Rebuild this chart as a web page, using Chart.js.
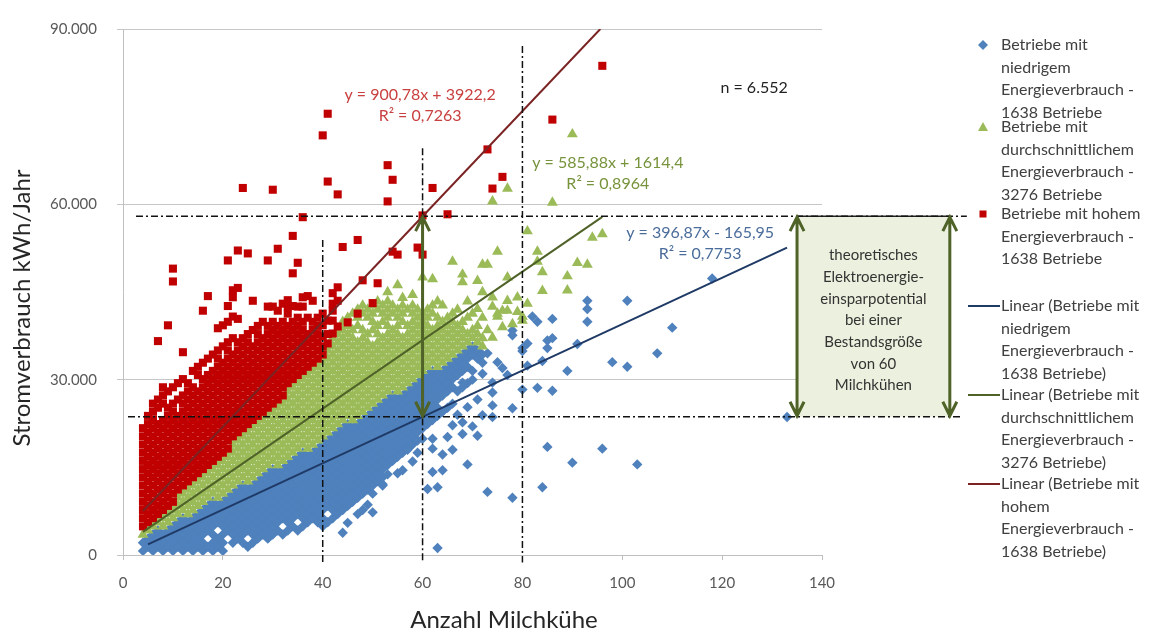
<!DOCTYPE html>
<html lang="de">
<head>
<meta charset="utf-8">
<title>Stromverbrauch Milchviehbetriebe</title>
<script src="https://cdn.jsdelivr.net/npm/chart.js@4.4.1/dist/chart.umd.min.js"></script>
<style>
  html, body { margin: 0; padding: 0; background: #fff; }
</style>
</head>
<body>
<canvas id="chart" width="1149" height="633"></canvas>
<script>
const FONT = 'Lato, "Noto Sans", sans-serif';

// Achsenbeschriftung (y intern in Tsd. kWh)
const xTickLabels = ['0', '20', '40', '60', '80', '100', '120', '140'];
const yTickLabels = ['0', '30.000', '60.000', '90.000'];

// Punktwolken: [Anzahl Kühe, [Stromverbrauch in Tsd. kWh, ...]]
const niedrigSpalten = [
  [4, [0.7, 2.1]], [5, [1.4, 2.8]], [6, [0.7, 2.1, 3.5]], [7, [1.4, 2.8, 4.2]],
  [8, [0.7, 2.1, 3.5]], [9, [1.4, 2.8, 4.2]], [10, [0.7, 2.1, 3.5, 4.9]],
  [11, [1.4, 2.8, 4.2, 5.6]], [12, [0.7, 2.1, 3.5, 4.9, 6.3]], [13, [1.4, 2.8, 4.2, 5.6]],
  [14, [0.7, 2.1, 3.5, 4.9, 6.3]], [15, [1.4, 2.8, 4.2, 5.6, 7.0]],
  [16, [0.7, 2.1, 3.5, 4.9, 6.3, 7.7]], [17, [1.4, 4.2, 5.6, 7.0, 8.4]],
  [18, [0.7, 2.1, 3.5, 4.9, 6.3, 7.7, 9.1]], [19, [1.4, 2.8, 5.6, 7.0, 8.4]],
  [20, [0.7, 2.1, 3.5, 4.9, 6.3, 7.7, 9.1]], [21, [4.2, 5.6, 7.0, 8.4, 9.8]],
  [22, [2.1, 3.5, 4.9, 6.3, 7.7, 9.1, 10.5]], [23, [2.8, 4.2, 5.6, 7.0, 8.4, 9.8, 11.2]],
  [24, [2.1, 3.5, 4.9, 6.3, 7.7, 9.1, 10.5, 11.9]], [25, [1.4, 4.2, 5.6, 7.0, 8.4, 9.8, 11.2]],
  [26, [2.1, 3.5, 4.9, 6.3, 7.7, 9.1, 10.5, 11.9]], [27, [2.8, 4.2, 5.6, 7.0, 8.4, 9.8, 11.2, 12.6]],
  [28, [3.5, 4.9, 6.3, 7.7, 9.1, 10.5, 11.9, 13.3]],
  [29, [2.8, 4.2, 5.6, 7.0, 8.4, 9.8, 11.2, 12.6, 14.0]],
  [30, [3.5, 4.9, 6.3, 7.7, 9.1, 10.5, 11.9, 13.3, 14.7]],
  [31, [4.2, 5.6, 7.0, 8.4, 9.8, 11.2, 12.6, 14.0]],
  [32, [3.5, 6.3, 7.7, 9.1, 10.5, 11.9, 13.3, 14.7]],
  [33, [4.2, 5.6, 7.0, 8.4, 9.8, 11.2, 12.6, 14.0, 15.4]],
  [34, [4.9, 6.3, 7.7, 9.1, 10.5, 11.9, 13.3, 14.7, 16.1]],
  [35, [4.2, 7.0, 8.4, 9.8, 11.2, 12.6, 14.0, 15.4, 16.8]],
  [36, [4.9, 6.3, 7.7, 9.1, 10.5, 11.9, 13.3, 14.7, 16.1, 17.5]],
  [37, [5.6, 7.0, 8.4, 9.8, 11.2, 12.6, 14.0, 15.4, 16.8]],
  [38, [6.3, 7.7, 9.1, 10.5, 11.9, 13.3, 14.7, 16.1, 17.5]],
  [39, [5.6, 7.0, 8.4, 9.8, 11.2, 12.6, 14.0, 15.4, 16.8, 18.2]],
  [40, [4.9, 6.3, 7.7, 9.1, 10.5, 11.9, 13.3, 14.7, 16.1, 17.5, 18.9]],
  [41, [5.6, 8.4, 9.8, 11.2, 12.6, 14.0, 15.4, 16.8, 18.2, 19.6]],
  [42, [6.3, 7.7, 9.1, 10.5, 11.9, 13.3, 14.7, 16.1, 17.5, 18.9, 20.3]],
  [43, [7.0, 8.4, 9.8, 11.2, 12.6, 14.0, 15.4, 16.8, 18.2, 19.6, 21.0]],
  [44, [7.7, 9.1, 10.5, 11.9, 13.3, 14.7, 16.1, 17.5, 18.9, 20.3, 21.7]],
  [45, [8.4, 9.8, 11.2, 12.6, 14.0, 15.4, 16.8, 18.2, 19.6, 21.0, 22.4]],
  [46, [9.1, 10.5, 11.9, 13.3, 14.7, 16.1, 17.5, 18.9, 20.3, 21.7]],
  [47, [9.8, 11.2, 12.6, 14.0, 15.4, 16.8, 18.2, 19.6, 21.0, 22.4]],
  [48, [7.7, 10.5, 11.9, 13.3, 14.7, 16.1, 17.5, 18.9, 20.3, 21.7, 23.1]],
  [49, [11.2, 12.6, 14.0, 15.4, 16.8, 18.2, 19.6, 21.0, 22.4, 23.8]],
  [50, [10.5, 11.9, 13.3, 14.7, 16.1, 17.5, 18.9, 20.3, 21.7, 23.1, 24.5]],
  [51, [12.6, 14.0, 15.4, 16.8, 18.2, 19.6, 21.0, 22.4, 23.8, 25.2]],
  [52, [11.9, 13.3, 14.7, 16.1, 17.5, 18.9, 20.3, 21.7, 23.1, 24.5, 25.9]],
  [53, [15.4, 16.8, 18.2, 19.6, 21.0, 22.4, 23.8, 25.2, 26.6]],
  [54, [16.1, 17.5, 18.9, 20.3, 21.7, 23.1, 24.5, 25.9, 27.3]],
  [55, [14.0, 16.8, 18.2, 19.6, 21.0, 22.4, 23.8, 25.2, 26.6]],
  [56, [17.5, 18.9, 20.3, 21.7, 23.1, 24.5, 25.9, 27.3]],
  [57, [18.2, 19.6, 21.0, 22.4, 23.8, 25.2, 26.6, 28.0]],
  [58, [18.9, 20.3, 21.7, 23.1, 24.5, 25.9, 27.3, 28.7]],
  [59, [19.6, 21.0, 22.4, 23.8, 25.2, 26.6, 28.0, 29.4]],
  [60, [21.7, 23.1, 24.5, 25.9, 27.3, 28.7, 30.1]],
  [61, [22.4, 23.8, 25.2, 26.6, 28.0, 29.4, 30.8]],
  [62, [23.1, 24.5, 25.9, 27.3, 28.7, 30.1, 31.5]],
  [63, [23.8, 25.2, 26.6, 28.0, 29.4, 30.8]],
  [64, [24.5, 27.3, 28.7, 30.1, 31.5]], [65, [25.2, 28.0, 29.4, 30.8, 32.2]],
  [66, [25.9, 28.7, 30.1, 31.5, 32.9]], [67, [28.0, 30.8, 32.2, 33.6]],
  [68, [28.7, 31.5, 32.9, 34.3]], [69, [29.4, 32.2, 33.6, 35.0]],
  [70, [31.5, 34.3, 35.7]], [71, [33.6, 35.0]], [72, [32.9, 34.3]]
];
const niedrigEinzel = [
  [63, 1.2], [73, 10.8], [78, 9.8], [61, 11.3], [63, 11.6], [62, 14.2], [64, 14.5], [69, 15.5],
  [85, 18.5], [90, 15.8], [96, 18.2], [103, 15.5], [84, 11.6], [59, 17.5], [60, 19.9], [62, 19.9],
  [62, 18.2], [65, 20.2], [68, 20.7], [72, 23.9], [74, 23.6], [74, 25.6], [78, 25.1], [66, 22.2],
  [68, 22.7], [83, 28.6], [86, 28.1], [80, 28.3], [89, 31.5], [98, 33.0], [101, 32.2], [107, 34.5],
  [110, 38.9], [101, 43.5], [93, 43.5], [93, 42.1], [93, 39.9], [86, 40.4], [82, 40.8], [83, 39.9],
  [85, 36.7], [86, 37.1], [85, 35.4], [81, 36.2], [80, 35.4], [78, 38.4], [78, 37.6], [84, 33.2],
  [91, 36.1], [133, 23.6], [118, 47.3], [81, 32.4], [49, 8.6], [47, 11.0], [52, 12.1], [54, 16.3],
  [56, 19.4], [57, 18.0], [67, 24.0], [69, 25.3], [71, 26.6], [68, 29.5], [70, 30.0], [72, 31.0],
  [74, 27.8], [74, 29.5], [77, 30.8], [80, 34.9], [75, 33.0], [73, 34.5], [76, 32.0], [70, 22.0],
  [71, 20.4], [66, 18.0], [64, 17.2], [58, 16.0], [56, 14.5], [53, 13.8], [50, 7.3], [45, 5.5],
  [47, 7.0], [44, 3.8]
];

const mittelSpalten = [
  [4, [3.5]], [5, [4.2]], [6, [4.9]], [7, [5.6]], [8, [4.9, 6.3]], [9, [5.6, 7.0]],
  [10, [6.3, 7.7]], [11, [7.0, 8.4, 9.8]], [12, [7.7, 9.1, 10.5]], [13, [7.0, 8.4, 9.8, 11.2]],
  [14, [7.7, 9.1, 10.5, 11.9]], [15, [8.4, 9.8, 11.2, 12.6]], [16, [9.1, 10.5, 11.9, 13.3]],
  [17, [9.8, 11.2, 12.6, 14.0]], [18, [10.5, 11.9, 13.3, 14.7]], [19, [9.8, 11.2, 12.6, 14.0, 15.4]],
  [20, [10.5, 11.9, 13.3, 14.7, 16.1]], [21, [11.2, 12.6, 14.0, 15.4, 16.8]],
  [22, [11.9, 13.3, 14.7, 16.1, 17.5, 18.9]], [23, [12.6, 14.0, 15.4, 16.8, 18.2, 19.6]],
  [24, [13.3, 14.7, 16.1, 17.5, 18.9, 20.3]], [25, [12.6, 14.0, 15.4, 16.8, 18.2, 19.6, 21.0]],
  [26, [13.3, 14.7, 16.1, 17.5, 18.9, 20.3, 21.7]], [27, [14.0, 15.4, 16.8, 18.2, 19.6, 21.0, 22.4]],
  [28, [14.7, 16.1, 17.5, 18.9, 20.3, 21.7, 23.1]], [29, [15.4, 16.8, 18.2, 19.6, 21.0, 22.4, 23.8]],
  [30, [16.1, 17.5, 18.9, 20.3, 21.7, 23.1, 24.5]],
  [31, [15.4, 16.8, 18.2, 19.6, 21.0, 22.4, 23.8, 25.2]],
  [32, [16.1, 17.5, 18.9, 20.3, 21.7, 23.1, 24.5, 25.9]],
  [33, [16.8, 18.2, 19.6, 21.0, 22.4, 23.8, 25.2, 26.6, 28.0]],
  [34, [17.5, 18.9, 20.3, 21.7, 23.1, 24.5, 25.9, 27.3, 28.7]],
  [35, [18.2, 19.6, 21.0, 22.4, 23.8, 25.2, 26.6, 28.0, 29.4]],
  [36, [18.9, 20.3, 21.7, 23.1, 24.5, 25.9, 27.3, 28.7, 30.1]],
  [37, [18.2, 19.6, 21.0, 22.4, 23.8, 25.2, 26.6, 28.0, 29.4, 30.8]],
  [38, [18.9, 20.3, 21.7, 23.1, 24.5, 25.9, 27.3, 28.7, 30.1, 31.5]],
  [39, [19.6, 21.0, 22.4, 23.8, 25.2, 26.6, 28.0, 29.4, 30.8, 32.2]],
  [40, [20.3, 21.7, 23.1, 24.5, 25.9, 27.3, 28.7, 30.1, 31.5, 32.9]],
  [41, [21.0, 22.4, 23.8, 25.2, 26.6, 28.0, 29.4, 30.8, 32.2, 33.6, 35.0]],
  [42, [21.7, 23.1, 24.5, 25.9, 27.3, 28.7, 30.1, 31.5, 32.9, 34.3, 35.7, 37.1]],
  [43, [22.4, 23.8, 25.2, 26.6, 28.0, 29.4, 30.8, 32.2, 33.6, 35.0, 36.4, 37.8]],
  [44, [23.1, 24.5, 25.9, 27.3, 28.7, 30.1, 31.5, 32.9, 34.3, 35.7, 37.1, 38.5, 39.9]],
  [45, [23.8, 25.2, 26.6, 28.0, 29.4, 30.8, 32.2, 33.6, 35.0, 36.4, 37.8, 39.2, 40.6]],
  [46, [23.1, 24.5, 25.9, 27.3, 28.7, 30.1, 31.5, 32.9, 34.3, 35.7, 37.1, 38.5, 41.3]],
  [47, [23.8, 25.2, 26.6, 28.0, 29.4, 30.8, 32.2, 33.6, 35.0, 36.4, 39.2, 40.6, 42.0]],
  [48, [24.5, 25.9, 27.3, 28.7, 30.1, 31.5, 32.9, 34.3, 35.7, 37.1, 38.5, 41.3, 42.7]],
  [49, [25.2, 26.6, 28.0, 29.4, 30.8, 32.2, 33.6, 35.0, 36.4, 37.8, 40.6, 42.0]],
  [50, [25.9, 27.3, 28.7, 30.1, 31.5, 32.9, 34.3, 35.7, 38.5, 39.9, 41.3, 42.7]],
  [51, [26.6, 28.0, 29.4, 30.8, 32.2, 33.6, 35.0, 36.4, 37.8, 39.2, 42.0, 43.4]],
  [52, [27.3, 28.7, 30.1, 31.5, 32.9, 34.3, 35.7, 37.1, 39.9, 41.3, 42.7]],
  [53, [28.0, 29.4, 30.8, 32.2, 33.6, 35.0, 36.4, 37.8, 39.2, 40.6, 42.0, 43.4]],
  [54, [28.7, 30.1, 31.5, 32.9, 34.3, 35.7, 37.1, 38.5, 41.3, 42.7]],
  [55, [28.0, 29.4, 30.8, 32.2, 33.6, 35.0, 36.4, 37.8, 39.2, 40.6, 42.0, 46.2]],
  [56, [28.7, 30.1, 31.5, 32.9, 34.3, 35.7, 37.1, 39.9, 41.3, 42.7]],
  [57, [29.4, 30.8, 32.2, 33.6, 35.0, 36.4, 37.8, 39.2, 42.0]],
  [58, [30.1, 31.5, 32.9, 34.3, 35.7, 37.1, 38.5, 39.9, 41.3, 42.7]],
  [59, [30.8, 32.2, 33.6, 35.0, 36.4, 37.8, 39.2, 40.6, 42.0]],
  [60, [31.5, 32.9, 34.3, 35.7, 37.1, 38.5, 39.9, 41.3, 47.5]],
  [61, [32.2, 33.6, 35.0, 36.4, 37.8, 39.2, 40.6, 42.0]],
  [62, [32.9, 34.3, 35.7, 37.1, 38.5, 41.3, 42.7, 47.2]],
  [63, [32.2, 33.6, 35.0, 36.4, 37.8, 39.2, 40.6, 43.4]],
  [64, [32.9, 34.3, 35.7, 37.1, 38.5, 39.9, 42.7]],
  [65, [33.6, 35.0, 36.4, 37.8, 39.2, 40.6]],
  [66, [34.3, 35.7, 37.1, 38.5, 39.9, 41.3, 50.2]],
  [67, [35.0, 36.4, 37.8, 39.2, 42.0]], [68, [35.7, 37.1, 38.5, 39.9, 46.7]],
  [69, [36.4, 37.8, 40.6, 43.4]], [70, [37.1, 38.5, 41.3]],
  [71, [36.4, 37.8, 39.2, 42.1, 46.9]], [72, [35.7, 37.1, 40.6, 45.0, 49.7]]
];
const mittelEinzel = [
  [73, 49.7], [75, 51.9], [74, 60.5], [77, 62.7], [77, 47.5], [80, 40.8], [81, 43.0], [81, 55.4],
  [83, 51.9], [83, 50.2], [84, 48.4], [84, 45.2], [86, 60.3], [89, 47.7], [89, 45.3], [90, 72.0],
  [91, 50.0], [93, 49.7], [94, 54.3], [96, 54.9], [68, 48.0], [74, 44.1], [77, 43.5], [74, 42.5],
  [76, 41.8], [79, 41.6], [75, 40.8], [80, 40.1], [75, 41.3], [77, 41.8], [79, 44.1], [73, 38.5],
  [74, 37.2], [76, 39.0], [78, 39.5], [58, 44.5], [56, 44.0], [53, 45.0]
];

const hochSpalten = [
  [4, [4.9, 6.3, 7.7, 9.1, 10.5, 11.9, 13.3, 14.7, 16.1, 17.5, 18.9, 20.3, 21.7]],
  [5, [5.6, 7.0, 8.4, 9.8, 11.2, 12.6, 14.0, 15.4, 16.8, 18.2, 19.6, 21.0, 22.4, 23.8]],
  [6, [6.3, 7.7, 9.1, 10.5, 11.9, 13.3, 14.7, 16.1, 17.5, 18.9, 20.3, 21.7, 23.1, 24.5, 25.9]],
  [7, [7.0, 8.4, 9.8, 11.2, 12.6, 14.0, 15.4, 16.8, 18.2, 19.6, 21.0, 22.4, 25.2, 26.6, 36.6]],
  [8, [7.7, 9.1, 10.5, 11.9, 13.3, 14.7, 16.1, 17.5, 18.9, 20.3, 21.7, 23.1, 25.9, 27.3, 28.7]],
  [9, [8.4, 9.8, 11.2, 12.6, 14.0, 15.4, 16.8, 18.2, 19.6, 21.0, 22.4, 23.8, 25.2, 28.0, 39.3]],
  [10, [9.1, 10.5, 11.9, 13.3, 14.7, 16.1, 17.5, 18.9, 20.3, 21.7, 23.1, 24.5, 25.9, 28.7, 46.8, 49.0]],
  [11, [11.2, 12.6, 14.0, 15.4, 16.8, 18.2, 19.6, 21.0, 22.4, 23.8, 26.6, 29.4]],
  [12, [11.9, 13.3, 14.7, 16.1, 17.5, 18.9, 20.3, 21.7, 23.1, 24.5, 25.9, 27.3, 30.1, 34.7]],
  [13, [12.6, 14.0, 15.4, 16.8, 18.2, 19.6, 21.0, 22.4, 23.8, 25.2, 26.6, 28.0, 29.4]],
  [14, [13.3, 14.7, 16.1, 17.5, 18.9, 20.3, 21.7, 23.1, 24.5, 25.9, 27.3, 28.7, 31.5]],
  [15, [14.0, 15.4, 16.8, 18.2, 19.6, 21.0, 22.4, 23.8, 25.2, 26.6, 28.0, 30.8, 32.2]],
  [16, [14.7, 16.1, 17.5, 18.9, 20.3, 21.7, 23.1, 24.5, 25.9, 27.3, 28.7, 30.1, 32.9, 41.8]],
  [17, [15.4, 16.8, 18.2, 19.6, 21.0, 22.4, 23.8, 25.2, 26.6, 28.0, 29.4, 30.8, 33.6, 44.3]],
  [18, [16.1, 17.5, 18.9, 20.3, 21.7, 23.1, 24.5, 25.9, 27.3, 28.7, 30.1, 31.5, 34.3]],
  [19, [16.8, 18.2, 19.6, 21.0, 22.4, 23.8, 25.2, 26.6, 28.0, 29.4, 30.8, 32.2, 33.6, 35.0, 38.8]],
  [20, [17.5, 18.9, 20.3, 21.7, 23.1, 24.5, 25.9, 27.3, 28.7, 30.1, 31.5, 32.9, 35.7, 39.3]],
  [21, [18.2, 19.6, 21.0, 22.4, 23.8, 25.2, 26.6, 28.0, 29.4, 30.8, 32.2, 33.6, 35.0, 36.4, 39.9, 42.6, 50.4]],
  [22, [20.3, 21.7, 23.1, 24.5, 25.9, 27.3, 28.7, 30.1, 31.5, 32.9, 34.3, 37.1, 40.8, 44.1, 45.3]],
  [23, [21.0, 22.4, 23.8, 25.2, 26.6, 28.0, 29.4, 30.8, 32.2, 33.6, 35.0, 36.4, 40.4, 45.7, 52.1]],
  [24, [21.7, 23.1, 24.5, 25.9, 27.3, 28.7, 30.1, 31.5, 32.9, 34.3, 35.7, 37.1, 62.8]],
  [25, [22.4, 23.8, 25.2, 26.6, 28.0, 29.4, 30.8, 32.2, 33.6, 35.0, 36.4, 37.8, 51.6]],
  [26, [23.1, 24.5, 25.9, 27.3, 28.7, 30.1, 31.5, 32.9, 34.3, 35.7, 38.5, 43.5]],
  [27, [23.8, 25.2, 26.6, 28.0, 29.4, 30.8, 32.2, 33.6, 35.0, 36.4, 37.8, 39.2]],
  [28, [24.5, 25.9, 27.3, 28.7, 30.1, 31.5, 32.9, 34.3, 35.7, 37.1, 39.9]],
  [29, [25.2, 26.6, 28.0, 29.4, 30.8, 32.2, 33.6, 35.0, 36.4, 37.8, 39.2, 42.5, 50.4]],
  [30, [25.9, 27.3, 28.7, 30.1, 31.5, 32.9, 34.3, 35.7, 37.1, 38.5, 39.9, 42.5, 62.5]],
  [31, [26.6, 28.0, 29.4, 30.8, 32.2, 33.6, 35.0, 36.4, 37.8, 39.2, 41.8, 52.4]],
  [32, [27.3, 28.7, 30.1, 31.5, 32.9, 34.3, 35.7, 37.1, 38.5, 39.9, 43.0]],
  [33, [29.4, 30.8, 32.2, 33.6, 35.0, 36.4, 37.8, 39.2, 41.3, 42.5, 43.6]],
  [34, [30.1, 31.5, 32.9, 34.3, 35.7, 37.1, 38.5, 39.9, 42.6, 48.2, 54.6]],
  [35, [30.8, 32.2, 33.6, 35.0, 36.4, 37.8, 39.2, 40.6, 42.5, 50.0]],
  [36, [31.5, 32.9, 34.3, 35.7, 37.1, 38.5, 39.9, 42.5, 44.1, 57.8]],
  [37, [32.2, 33.6, 35.0, 36.4, 37.8, 40.6, 44.3]],
  [38, [32.9, 34.3, 35.7, 37.1, 38.5, 39.9, 43.5]],
  [39, [33.6, 35.0, 36.4, 37.8, 39.2, 40.6]],
  [40, [34.3, 35.7, 37.4, 39.3, 41.3, 71.8]],
  [41, [36.2, 37.8, 40.1, 63.9, 75.5]],
  [42, [37.9, 40.1, 41.8, 43.0, 44.8]],
  [43, [39.1, 43.5, 45.8, 61.7]]
];
const hochEinzel = [
  [44, 52.7], [45, 39.8], [47, 41.3], [47, 53.9], [48, 47.0], [50, 43.1], [51, 46.5], [53, 60.5],
  [53, 66.7], [54, 51.9], [54, 64.2], [55, 51.4], [59, 52.6], [60, 51.4], [60, 58.1], [62, 62.8],
  [65, 58.3], [73, 69.4], [74, 62.7], [76, 64.7], [86, 74.5], [96, 83.7]
];

// lineare Trendlinien: Anfangs- und Endpunkt
const trendNiedrig = [[5, 1.82], [133, 52.6]];
const trendMittel = [[4, 3.96], [96, 57.86]];
const trendHoch = [[4, 7.53], [95.6, 90]];

// Strich-Punkt-Hilfslinien
const hilfslinien = [
  [[2.6, 57.97], [169, 57.97]],
  [[1, 23.65], [168, 23.65]],
  [[40, 53.9], [40, -1.3]],
  [[60, 69.6], [60, -1.3]],
  [[80, 87.1], [80, -1.3]]
];

const gleichungRot = ['y = 900,78x + 3922,2', 'R² = 0,7263'];
const gleichungGruen = ['y = 585,88x + 1614,4', 'R² = 0,8964'];
const gleichungBlau = ['y = 396,87x - 165,95', 'R² = 0,7753'];
const stichprobe = 'n = 6.552';
const sparText = ['theoretisches', 'Elektroenergie-', 'einsparpotential', 'bei einer',
  'Bestandsgröße', 'von 60', 'Milchkühen'];

const legendeTexte = [
  ['Betriebe mit', 'niedrigem', 'Energieverbrauch -', '1638 Betriebe'],
  ['Betriebe mit', 'durchschnittlichem', 'Energieverbrauch -', '3276 Betriebe'],
  ['Betriebe mit hohem', 'Energieverbrauch -', '1638 Betriebe'],
  ['Linear (Betriebe mit', 'niedrigem', 'Energieverbrauch -', '1638 Betriebe)'],
  ['Linear (Betriebe mit', 'durchschnittlichem', 'Energieverbrauch -', '3276 Betriebe)'],
  ['Linear (Betriebe mit', 'hohem', 'Energieverbrauch -', '1638 Betriebe)']
];

const BLAU = '#4f81bd', GRUEN = '#9bbb59', ROT = '#c00000';
const LINIE_BLAU = '#1f3a66', LINIE_GRUEN = '#4f6228', LINIE_ROT = '#7b2323';
const PFEIL = '#4f6228';

function punkte(spalten, einzel) {
  const pts = [];
  spalten.forEach(([x, ys]) => ys.forEach(y => pts.push({ x: x, y: y })));
  einzel.forEach(([x, y]) => pts.push({ x: x, y: y }));
  return pts;
}
const xy = arr => arr.map(([x, y]) => ({ x: x, y: y }));

function linie(data, color, width, dash) {
  return {
    data: xy(data), showLine: true, pointRadius: 0, borderColor: color,
    borderWidth: width, borderDash: dash || [], clip: dash ? false : undefined, fill: false
  };
}

function pfeil(ctx, x, yTop, yBot) {
  ctx.save();
  ctx.strokeStyle = PFEIL;
  ctx.lineWidth = 3;
  ctx.beginPath();
  ctx.moveTo(x, yTop + 1);
  ctx.lineTo(x, yBot - 1);
  ctx.moveTo(x - 7, yTop + 15); ctx.lineTo(x, yTop + 1); ctx.lineTo(x + 7, yTop + 15);
  ctx.moveTo(x - 7, yBot - 15); ctx.lineTo(x, yBot - 1); ctx.lineTo(x + 7, yBot - 15);
  ctx.stroke();
  ctx.restore();
}

const zusatz = {
  id: 'zusatz',
  beforeDatasetsDraw(chart) {
    const { ctx, scales: { x, y } } = chart;
    const l = x.getPixelForValue(135), r = x.getPixelForValue(165.6);
    const t = y.getPixelForValue(57.97), b = y.getPixelForValue(23.65);
    ctx.save();
    ctx.fillStyle = '#ebf1de';
    ctx.fillRect(l, t, r - l, b - t);
    ctx.strokeStyle = '#222';
    ctx.lineWidth = 1.5;
    ctx.beginPath(); ctx.moveTo(l, t); ctx.lineTo(r, t); ctx.stroke();
    ctx.restore();
  },
  afterDatasetsDraw(chart) {
    const { ctx, scales: { x, y } } = chart;
    const yo = y.getPixelForValue(57.97), yu = y.getPixelForValue(23.65);
    pfeil(ctx, x.getPixelForValue(60), yo, yu);
    pfeil(ctx, x.getPixelForValue(135), yo, yu);
    pfeil(ctx, x.getPixelForValue(165.6), yo, yu);

    ctx.save();
    ctx.textAlign = 'center';
    ctx.textBaseline = 'middle';
    ctx.font = '15px ' + FONT;
    ctx.fillStyle = '#333';
    const cx = x.getPixelForValue(150.3);
    const cy = (yo + yu) / 2 + 4;
    sparText.forEach((s, i) => ctx.fillText(s, cx, cy + (i - 3) * 21.7));

    ctx.font = '16px ' + FONT;
    const gl = (txt, vx, vy, col) => {
      ctx.fillStyle = col;
      const px = x.getPixelForValue(vx), py = y.getPixelForValue(vy);
      ctx.fillText(txt[0], px, py);
      ctx.fillText(txt[1], px, py + 21);
    };
    gl(gleichungRot, 59.5, 78.7, '#c8403f');
    gl(gleichungGruen, 97.1, 67.1, '#77933c');
    gl(gleichungBlau, 115.6, 55.1, '#4a6c9b');
    ctx.fillStyle = '#222';
    ctx.fillText(stichprobe, x.getPixelForValue(126.4), y.getPixelForValue(79.9));
    ctx.restore();
  },
  afterDraw(chart) {
    const ctx = chart.ctx;
    const right = chart.chartArea.right;
    const mx = right + 161, tx = right + 179;
    const starts = [45, 127, 214, 306, 395, 484];
    ctx.save();
    ctx.font = '16px ' + FONT;
    ctx.textAlign = 'left';
    ctx.textBaseline = 'middle';
    legendeTexte.forEach((lines, i) => {
      const y0 = starts[i];
      ctx.fillStyle = '#404040';
      lines.forEach((s, j) => ctx.fillText(s, tx, y0 + j * 22.6));
      if (i === 0) {
        ctx.fillStyle = BLAU;
        ctx.beginPath();
        ctx.moveTo(mx, y0 - 5); ctx.lineTo(mx + 5, y0); ctx.lineTo(mx, y0 + 5); ctx.lineTo(mx - 5, y0);
        ctx.closePath(); ctx.fill();
      } else if (i === 1) {
        ctx.fillStyle = GRUEN;
        ctx.beginPath();
        ctx.moveTo(mx, y0 - 5); ctx.lineTo(mx + 5, y0 + 4); ctx.lineTo(mx - 5, y0 + 4);
        ctx.closePath(); ctx.fill();
      } else if (i === 2) {
        ctx.fillStyle = ROT;
        ctx.fillRect(mx - 3.5, y0 - 3.5, 7, 7);
      } else {
        ctx.strokeStyle = [LINIE_BLAU, LINIE_GRUEN, LINIE_ROT][i - 3];
        ctx.lineWidth = 2;
        ctx.beginPath(); ctx.moveTo(right + 146, y0); ctx.lineTo(right + 178, y0); ctx.stroke();
      }
    });

    // Achsentitel
    ctx.fillStyle = '#262626';
    ctx.font = '24px ' + FONT;
    ctx.textAlign = 'center';
    ctx.fillText('Anzahl Milchkühe', 504, 620);
    ctx.translate(22, 308);
    ctx.rotate(-Math.PI / 2);
    ctx.fillText('Stromverbrauch kWh/Jahr', 0, 0);
    ctx.restore();
  }
};

const ctx = document.getElementById('chart');
new Chart(ctx, {
  type: 'scatter',
  data: {
    datasets: [
      ...hilfslinien.map(h => linie(h, '#111', 1.5, [7, 3, 2, 3])),
      linie(trendNiedrig, LINIE_BLAU, 2),
      linie(trendMittel, LINIE_GRUEN, 2),
      linie(trendHoch, LINIE_ROT, 2),
      { data: punkte(hochSpalten, hochEinzel), pointStyle: 'rect', pointRadius: 5.7,
        backgroundColor: ROT, pointBorderWidth: 0 },
      { data: punkte(mittelSpalten, mittelEinzel), pointStyle: 'triangle', pointRadius: 6.3,
        backgroundColor: GRUEN, pointBorderWidth: 0 },
      { data: punkte(niedrigSpalten, niedrigEinzel), pointStyle: 'rectRot', pointRadius: 5.2,
        backgroundColor: BLAU, pointBorderWidth: 0 }
    ]
  },
  options: {
    responsive: false,
    animation: false,
    events: [],
    layout: { padding: { left: 0, top: 21, right: 327, bottom: 0 } },
    plugins: { legend: { display: false }, tooltip: { enabled: false } },
    scales: {
      x: {
        min: 0, max: 140,
        afterFit(scale) { scale.height = 78; },
        ticks: {
          stepSize: 20, padding: 14, color: '#595959', font: { family: FONT, size: 15 },
          callback: v => xTickLabels[v / 20]
        },
        grid: { drawOnChartArea: false, drawTicks: true, tickLength: 5, color: '#bfbfbf' },
        border: { display: true, color: '#bfbfbf' }
      },
      y: {
        min: 0, max: 90,
        afterFit(scale) { scale.width = 123; },
        ticks: {
          stepSize: 30, padding: 20, color: '#595959', font: { family: FONT, size: 15 },
          callback: v => yTickLabels[v / 30]
        },
        grid: { color: '#c6c6c6', tickLength: 6 },
        border: { display: true, color: '#bfbfbf' }
      }
    }
  },
  plugins: [zusatz]
});
</script>
</body>
</html>
